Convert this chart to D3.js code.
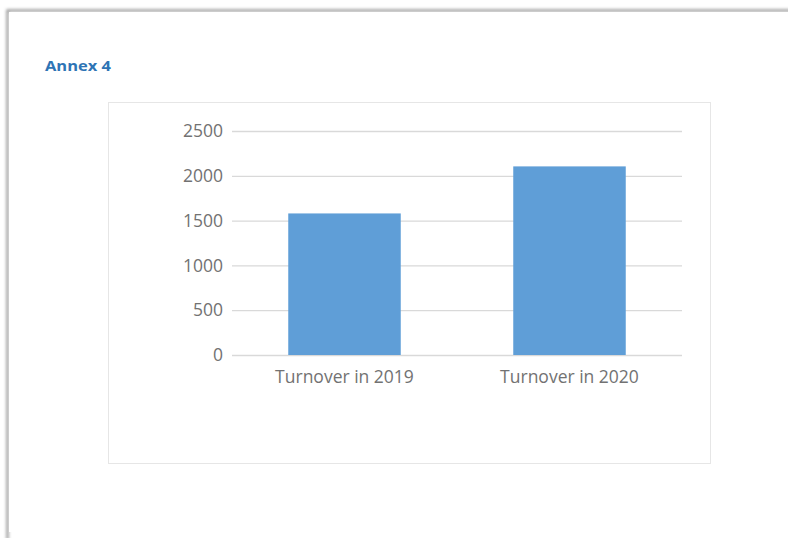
<!DOCTYPE html>
<html><head><meta charset="utf-8">
<script src="https://cdn.jsdelivr.net/npm/d3@7"></script>
<style>html,body{margin:0;padding:0;background:#fff;overflow:hidden}</style>
</head><body>
<svg id="c" width="788" height="538"></svg>
<script>
const categories = ["Turnover in 2019", "Turnover in 2020"];
const values = [1580, 2105];
const tickValues = [0, 500, 1000, 1500, 2000, 2500];
const title = "Annex 4";

const svg = d3.select("#c");
const defs = svg.append("defs");
const f = defs.append("filter").attr("id","sh").attr("x","-5%").attr("y","-5%").attr("width","110%").attr("height","110%");
f.append("feGaussianBlur").attr("stdDeviation",1.5);
svg.append("rect").attr("x",0).attr("y",0).attr("width",788).attr("height",538).attr("fill","#fff");
svg.append("path").attr("d","M7.5,540 L7.5,10.5 L800,10.5").attr("fill","none").attr("stroke","#9a9a9a").attr("stroke-width",2.5).attr("filter","url(#sh)");
svg.append("path").attr("d","M7,533.5 L800,533.5").attr("fill","none").attr("stroke","#c8c8c8").attr("stroke-width",2).attr("filter","url(#sh)");
svg.append("rect").attr("x",9).attr("y",12).attr("width",790).attr("height",520).attr("fill","#fff");

svg.append("text").attr("x",45).attr("y",71).text(title)
  .attr("font-family","'Open Sans', sans-serif").attr("font-weight","bold").attr("font-size",14.5)
  .attr("fill","#2E74B5").attr("textLength",66).attr("lengthAdjust","spacingAndGlyphs");

svg.append("rect").attr("x",108.5).attr("y",102.5).attr("width",602).attr("height",361)
  .attr("fill","#fff").attr("stroke","#e6e6e6").attr("stroke-width",1);

const x = d3.scaleBand().domain(categories).range([232, 682]).paddingInner(0.5).paddingOuter(0.25);
const y = d3.scaleLinear().domain([0, 2500]).range([355, 131]);

const yAxis = d3.axisLeft(y).tickValues(tickValues).tickFormat(d3.format("d")).tickSize(-(682-232)).tickPadding(9);
const gy = svg.append("g").attr("transform","translate(232,0)").call(yAxis);
gy.select(".domain").remove();
gy.selectAll(".tick line").attr("stroke","#d9d9d9").attr("stroke-width",1.3);
gy.selectAll(".tick text").attr("font-family","'Open Sans', sans-serif").attr("font-size",17.5).attr("fill","#727272");

svg.append("g").selectAll("rect").data(values).join("rect")
  .attr("x",(d,i)=>x(categories[i])).attr("width",x.bandwidth())
  .attr("y",d=>y(d)).attr("height",d=>y(0)-y(d)).attr("fill","#5f9ed7");

const xAxis = d3.axisBottom(x).tickSize(0).tickPadding(16);
const gx = svg.append("g").attr("transform","translate(0,355)").call(xAxis);
gx.select(".domain").remove();
gx.selectAll(".tick text").attr("font-family","'Open Sans', sans-serif").attr("font-size",17.5).attr("fill","#727272");
</script>
</body></html>
